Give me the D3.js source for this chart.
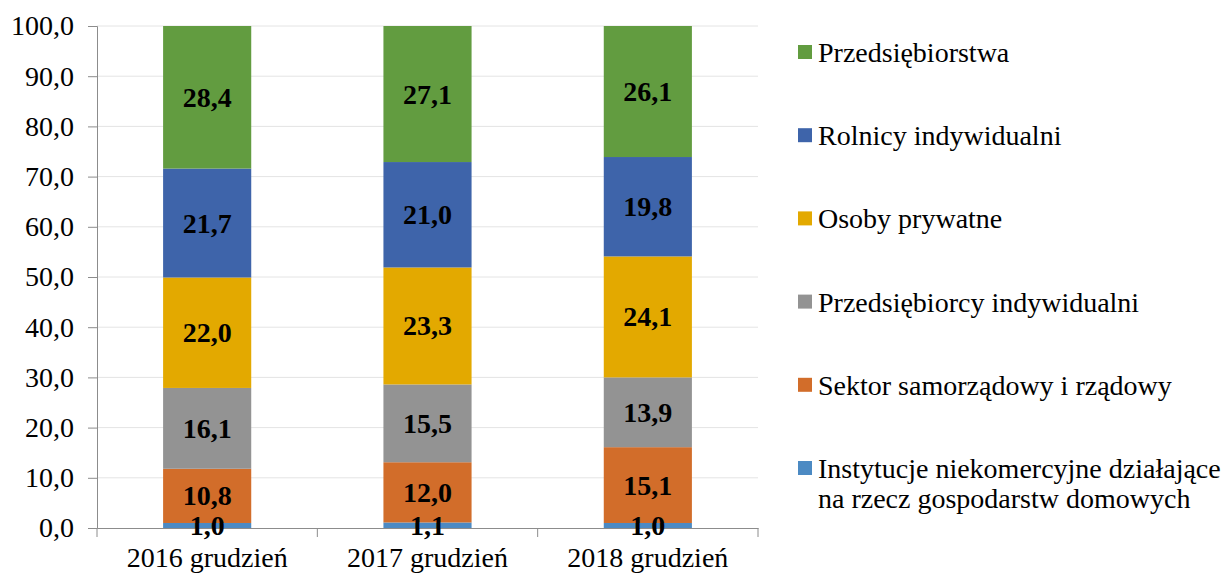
<!DOCTYPE html>
<html>
<head>
<meta charset="utf-8">
<script src="https://cdn.jsdelivr.net/npm/d3@7"></script>
<style>
  body { margin: 0; background: #fff; }
  svg text { font-family: "Liberation Serif", "Times New Roman", serif; }
</style>
</head>
<body>
<div id="chart"></div>
<script>
const categories = ["2016 grudzień", "2017 grudzień", "2018 grudzień"];
// series from bottom to top of the stack
const seriesNames = [
  "Instytucje niekomercyjne działające na rzecz gospodarstw domowych",
  "Sektor samorządowy i rządowy",
  "Przedsiębiorcy indywidualni",
  "Osoby prywatne",
  "Rolnicy indywidualni",
  "Przedsiębiorstwa"
];
const instytucje = [1.0, 1.1, 1.0];
const sektor = [10.8, 12.0, 15.1];
const przedsiebiorcy = [16.1, 15.5, 13.9];
const osoby = [22.0, 23.3, 24.1];
const rolnicy = [21.7, 21.0, 19.8];
const przedsiebiorstwa = [28.4, 27.1, 26.1];
const yTicks = [0, 10, 20, 30, 40, 50, 60, 70, 80, 90, 100];
const colors = ["#4c8ac3", "#d26d2a", "#939393", "#e3a900", "#3e64aa", "#629c40"];

const seriesValues = [instytucje, sektor, przedsiebiorcy, osoby, rolnicy, przedsiebiorstwa];
const table = categories.map((c, i) => {
  const row = { cat: c };
  seriesNames.forEach((s, j) => { row[s] = seriesValues[j][i]; });
  return row;
});

const W = 1223, H = 574;
const margin = { top: 26, left: 97 };
const plotW = 661, plotH = 502;

const svg = d3.select("#chart").append("svg").attr("width", W).attr("height", H);
const g = svg.append("g").attr("transform", `translate(${margin.left},${margin.top})`);

const x = d3.scaleBand().domain(categories).range([0, plotW]);
const y = d3.scaleLinear().domain([0, 100]).range([plotH, 0]);
const barW = x.step() * 0.4;
const fmt = v => d3.format(".1f")(v).replace(".", ",");

// gridlines
g.append("g").selectAll("line").data(yTicks.filter(t => t > 0)).join("line")
  .attr("x1", 0).attr("x2", plotW)
  .attr("y1", d => y(d)).attr("y2", d => y(d))
  .attr("stroke", "#e4e4e4").attr("stroke-width", 1);

const stack = d3.stack().keys(seriesNames)(table);

g.append("g").selectAll("g").data(stack).join("g")
  .attr("fill", (d, i) => colors[i])
  .selectAll("rect").data(d => d).join("rect")
  .attr("x", d => x(d.data.cat) + x.bandwidth() / 2 - barW / 2)
  .attr("width", barW)
  .attr("y", d => y(d[1]))
  .attr("height", d => y(d[0]) - y(d[1]));

// y axis
const yAxis = g.append("g")
  .call(d3.axisLeft(y).tickValues(yTicks).tickFormat(fmt).tickSize(9).tickPadding(14));
yAxis.attr("font-family", null);
yAxis.select(".domain").attr("stroke", "#8c8c8c");
yAxis.selectAll(".tick line").attr("stroke", "#8c8c8c");
yAxis.selectAll("text").attr("font-size", 28).attr("fill", "#000");

// x axis
const xAxis = g.append("g").attr("transform", `translate(0,${plotH})`)
  .call(d3.axisBottom(x).tickSize(0).tickPadding(19));
xAxis.attr("font-family", null);
xAxis.select(".domain").attr("stroke", "#8c8c8c");
xAxis.selectAll("text").attr("font-size", 28).attr("fill", "#000");
xAxis.append("g").selectAll("line").data(d3.range(categories.length + 1)).join("line")
  .attr("x1", d => d * x.step()).attr("x2", d => d * x.step())
  .attr("y1", 0).attr("y2", 9).attr("stroke", "#8c8c8c");

// data labels (drawn above the axes)
g.append("g").selectAll("g").data(stack).join("g")
  .selectAll("text").data(d => d).join("text")
  .attr("x", d => x(d.data.cat) + x.bandwidth() / 2)
  .attr("y", d => (y(d[0]) + y(d[1])) / 2)
  .attr("text-anchor", "middle")
  .attr("dominant-baseline", "central")
  .attr("font-size", 28).attr("font-weight", "bold").attr("fill", "#000")
  .text(d => fmt(d[1] - d[0]));

// legend
const legendOrder = seriesNames.map((s, i) => ({ name: s, color: colors[i] })).reverse();
const legend = svg.append("g").attr("transform", "translate(798,52)");
const item = legend.selectAll("g").data(legendOrder).join("g")
  .attr("transform", (d, i) => `translate(0,${i * 83.2})`);
item.append("rect").attr("x", 0).attr("y", -7).attr("width", 14).attr("height", 14)
  .attr("fill", d => d.color);
item.append("text").attr("x", 20).attr("y", 0).attr("dominant-baseline", "central")
  .attr("font-size", 28).attr("fill", "#000")
  .each(function (d) {
    const t = d3.select(this);
    const lines = d.name.startsWith("Instytucje")
      ? ["Instytucje niekomercyjne działające", "na rzecz gospodarstw domowych"]
      : [d.name];
    lines.forEach((l, k) => t.append("tspan").attr("x", 20).attr("dy", k === 0 ? 0 : 30).text(l));
  });
</script>
</body>
</html>
